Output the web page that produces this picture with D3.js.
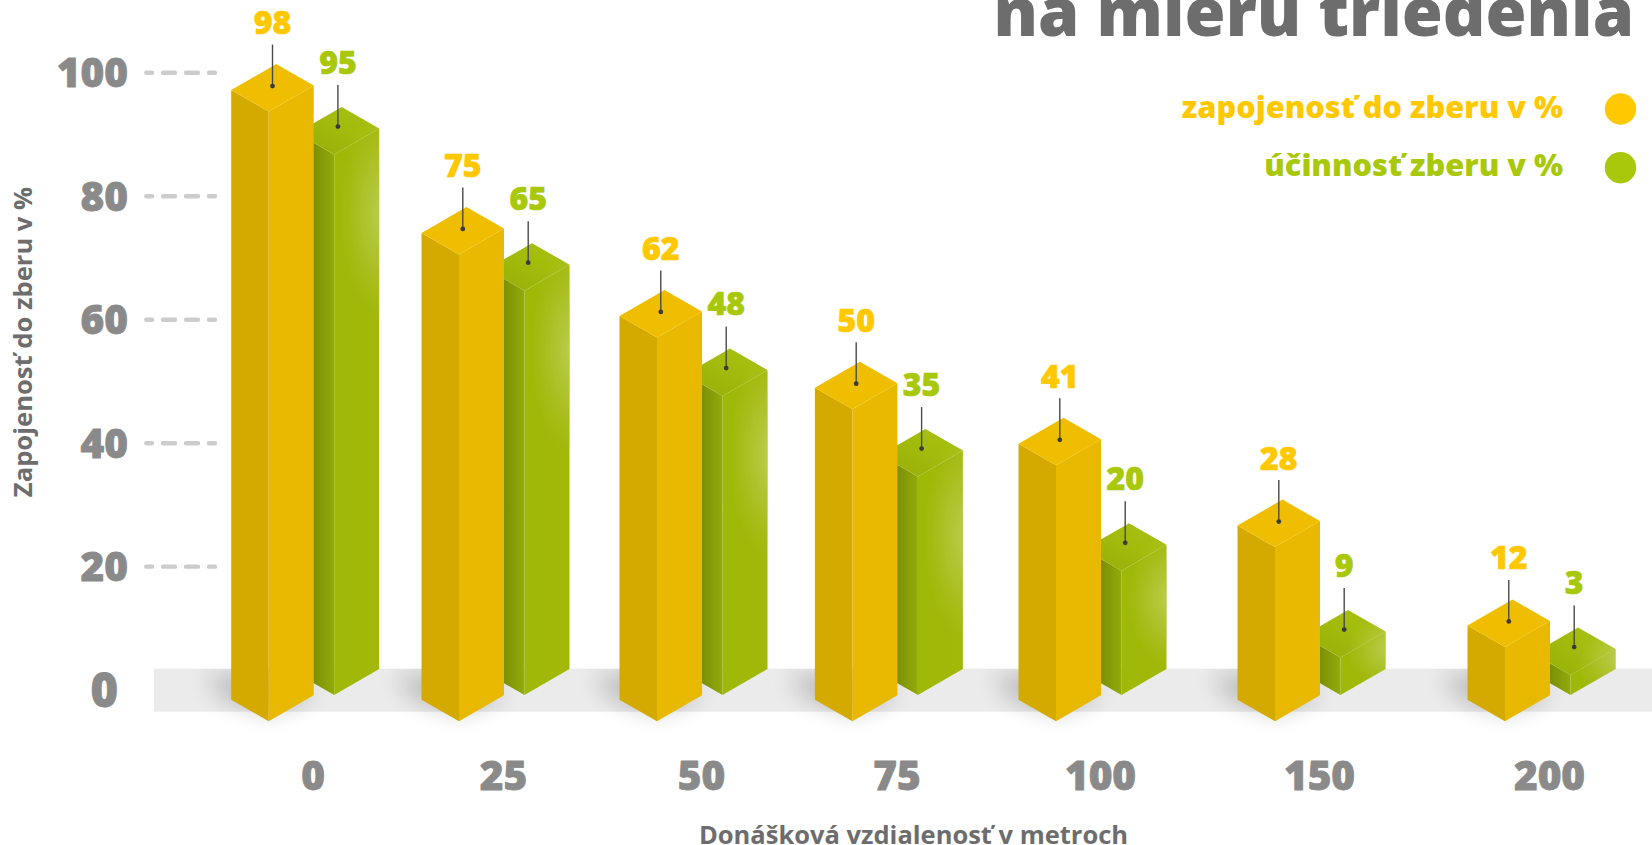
<!DOCTYPE html>
<html><head><meta charset="utf-8">
<script src="https://cdn.jsdelivr.net/npm/d3@7"></script>
<style>html,body{margin:0;padding:0;background:#fff;overflow:hidden}svg{display:block}text{font-family:"Open Sans",sans-serif}</style>
</head><body><div id="chart"></div>
<script>
const distances = ["0","25","50","75","100","150","200"];
const participation = [98,75,62,50,41,28,12];
const efficiency = [95,65,48,35,20,9,3];
// drawn column heights (they differ slightly from the printed labels)
const participationDrawn = [97.7,74.8,61.5,50,41,27.9,11.9];
const efficiencyDrawn = [86.6,64.8,47.9,35,19.9,6,3.2];
const yTicks = [0,20,40,60,80,100];
const titleText = "na mieru triedenia";
const legendLabels = ["zapojenosť do zberu v %","účinnosť zberu v %"];
const xTitle = "Donášková vzdialenosť v metroch";
const yTitle = "Zapojenosť do zberu v %";

const W=1652,H=845;
const svg=d3.select("#chart").append("svg").attr("width",W).attr("height",H);
const defs=svg.append("defs");
function grad(id,x1,y1,x2,y2,stops){
  const g=defs.append("linearGradient").attr("id",id).attr("x1",x1).attr("y1",y1).attr("x2",x2).attr("y2",y2);
  stops.forEach(s=>g.append("stop").attr("offset",s[0]).attr("stop-color",s[1]));
}
grad("gLeft",0,0,1,0,[[0,"#6f8504"],[.47,"#7b9106"],[1,"#93ab0a"]]);
grad("gRight",0,0,1,0,[[0,"#a0b808"],[1,"#a2b80a"]]);
grad("gTop",0,1,1,0,[[0,"#95ad09"],[.6,"#a3bc0c"],[1,"#a8c012"]]);
const glow=defs.append("radialGradient").attr("id","glow");
glow.append("stop").attr("offset",0).attr("stop-color","#c6d568").attr("stop-opacity",.8);
glow.append("stop").attr("offset",.55).attr("stop-color","#bccc50").attr("stop-opacity",.42);
glow.append("stop").attr("offset",1).attr("stop-color","#b0c436").attr("stop-opacity",0);
defs.append("filter").attr("id","blur").attr("x","-80%").attr("y","-120%").attr("width","260%").attr("height","340%")
  .append("feGaussianBlur").attr("stdDeviation",12);
defs.append("clipPath").attr("id","floorClip").append("rect").attr("x",0).attr("y",668.7).attr("width",W).attr("height",H);

const yAxisScale=d3.scaleLinear().domain([0,100]).range([689.6,72.3]);
const barH=d3.scaleLinear().domain([0,100]).range([0,624]);
const x=d3.scaleOrdinal().domain(distances).range([313.7,504,702,897.4,1101,1320,1550]);
const yellowBase=721.2, greenBase=695;
const LEFT=37.5,RIGHT=45,DL=21.5,DR=26,DB=47.5;

// floor
svg.append("rect").attr("x",154).attr("y",668.7).attr("width",W-154).attr("height",43).attr("fill","#ebebeb");

// soft shadows
svg.append("g").attr("clip-path","url(#floorClip)").selectAll("polygon").data(distances).join("polygon")
  .attr("points",d=>{const m=x(d)-RIGHT,b=yellowBase;
    return [[m-LEFT-26,b-44],[m-LEFT-6,b-24],[m,b-8],[m+RIGHT,b-26],[m+7,b-47]].join(" ");})
  .attr("fill","#000").attr("opacity",.24).attr("filter","url(#blur)");

const pts=a=>a.map(p=>p.join(",")).join(" ");
function column(g,m,base,h,fills,glowId){
  const f=base-h;
  g.append("polygon").attr("points",pts([[m-LEFT,f-DL],[m,f],[m,base],[m-LEFT,base-DL]])).attr("fill",fills[0]);
  g.append("polygon").attr("points",pts([[m,f],[m+RIGHT,f-DR],[m+RIGHT,base-DR],[m,base]])).attr("fill",fills[1]);
  g.append("polygon").attr("points",pts([[m-LEFT,f-DL],[m+7.5,f-DB],[m+RIGHT,f-DR],[m,f]])).attr("fill",fills[2]);
  if(glowId){
    defs.append("clipPath").attr("id",glowId).append("polygon")
      .attr("points",pts([[m,f],[m+7.5,f-DB],[m+RIGHT,f-DR],[m+RIGHT,base-DR],[m,base]]));
    const top=f-DR, reach=Math.min(85,h*.42+2);
    g.append("ellipse").attr("clip-path",`url(#${glowId})`)
      .attr("cx",m+RIGHT+6).attr("cy",top+reach).attr("rx",46).attr("ry",Math.max(40,reach*1.25)).attr("fill","url(#glow)");
  }
}
function callout(g,cx,f,label,color,top,dot,base){
  g.append("line").attr("x1",cx).attr("x2",cx).attr("y1",f-top).attr("y2",f-dot).attr("stroke","#4a4a4a").attr("stroke-width",1.4);
  g.append("circle").attr("cx",cx).attr("cy",f-dot).attr("r",2.4).attr("fill","#3a3a3a");
  g.append("text").attr("x",cx).attr("y",f-base).attr("text-anchor","middle").attr("font-size",32).attr("font-weight",800)
    .attr("fill",color).attr("stroke",color).attr("stroke-width",.7).attr("stroke-linejoin","round").text(label);
}
const bars=svg.append("g");
distances.forEach((d,i)=>{
  const g=bars.append("g");
  const ym=x(d)-RIGHT, gm=x(d)+20.5;
  column(g,gm,greenBase,barH(efficiencyDrawn[i]),["url(#gLeft)","url(#gRight)","url(#gTop)"],"glowClip"+i);
  column(g,ym,yellowBase,barH(participationDrawn[i]),["#d4a900","#e8b900","#f0be00"]);
  callout(g,ym+3.8,yellowBase-barH(participationDrawn[i]),participation[i],"#ffc800",67,25.5,77.5);
  callout(g,gm+3.7,greenBase-barH(efficiencyDrawn[i]),efficiency[i],"#a9c80b",69.5,28,81);
});

// y axis
const ya=svg.append("g").attr("transform","translate(128,0)")
  .call(d3.axisLeft(yAxisScale).tickValues(yTicks).tickSize(0).tickPadding(0));
ya.select(".domain").remove();
ya.selectAll("text").attr("font-size",d=>d===0?47:40.5).attr("font-weight",800).attr("fill","#8a8a8a")
  .attr("stroke","#8a8a8a").attr("stroke-width",.8).attr("stroke-linejoin","round")
  .attr("x",d=>d===0?-10:0).attr("dy","0.36em").style("font-family",'"Open Sans",sans-serif');
ya.selectAll(".tick").filter(d=>d>0).append("line").attr("x1",18.3).attr("x2",87).attr("y1",0).attr("y2",0)
  .attr("stroke","#cccccc").attr("stroke-width",4.4).attr("stroke-linecap","round").attr("stroke-dasharray","5.7 11 12 11 12 11 6");

// x axis
const xa=svg.append("g").attr("transform","translate(-1,790)")
  .call(d3.axisBottom(x).tickSize(0).tickPadding(0));
xa.select(".domain").remove();
xa.selectAll("text").attr("font-size",40.5).attr("font-weight",800).attr("fill","#8a8a8a")
  .attr("stroke","#8a8a8a").attr("stroke-width",.8).attr("stroke-linejoin","round")
  .attr("y",0).attr("dy",0).style("font-family",'"Open Sans",sans-serif');

// axis titles
svg.append("text").attr("transform","translate(32.3,342) rotate(-90)").attr("text-anchor","middle").attr("font-size",25.6).attr("font-weight",700).attr("fill","#6d6d6d").text(yTitle);
svg.append("text").attr("x",913.5).attr("y",843.5).attr("text-anchor","middle").attr("font-size",25.5).attr("font-weight",700).attr("fill","#6d6d6d").text(xTitle);

// title
svg.append("text").attr("x",1634).attr("y",36).attr("text-anchor","end").attr("font-size",66.4).attr("font-weight",800).attr("fill","#6d6d6d").text(titleText);

// legend
const legendColors=["#ffc800","#a9c80b"], legendY=[117.5,176], circleY=[109,167.7];
legendLabels.forEach((t,i)=>{
  svg.append("text").attr("x",1563).attr("y",legendY[i]).attr("text-anchor","end").attr("font-size",30.7).attr("font-weight",800).attr("fill",legendColors[i]).text(t);
  svg.append("circle").attr("cx",1620.5).attr("cy",circleY[i]).attr("r",15.7).attr("fill",legendColors[i]);
});
</script></body></html>
